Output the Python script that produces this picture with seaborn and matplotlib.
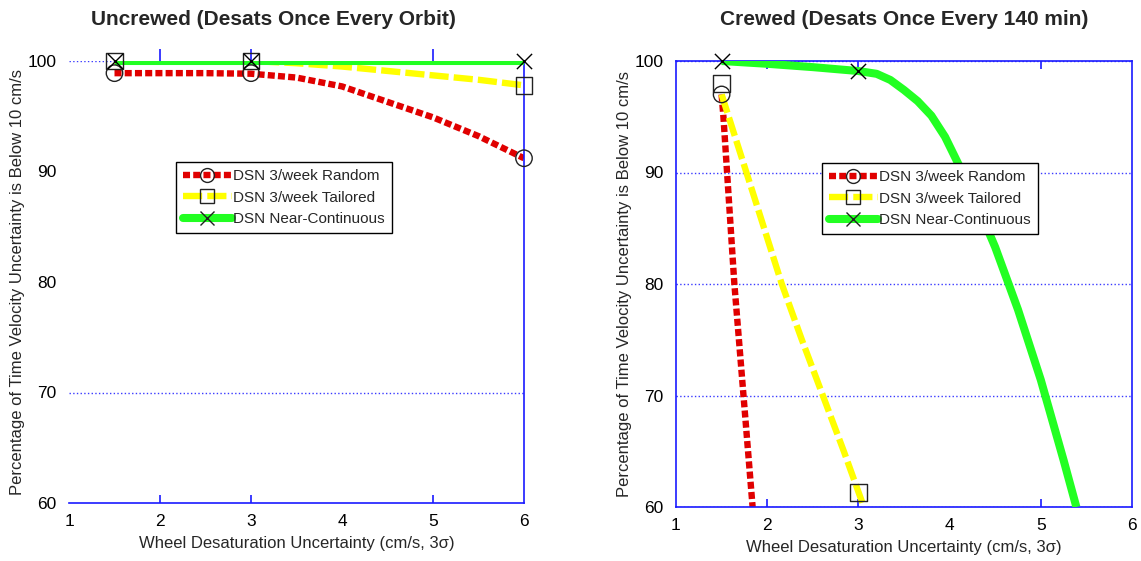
import matplotlib
matplotlib.use("Agg")
import matplotlib.pyplot as plt
from matplotlib.lines import Line2D
import seaborn as sns

sns.set_theme(style="white")
plt.rcParams["font.family"] = ["Liberation Sans", "DejaVu Sans"]

# --- data ---
labels = ["DSN 3/week Random", "DSN 3/week Tailored", "DSN Near-Continuous"]

# Uncrewed (left): fitted curves
unc_x = [1.5, 2, 2.5, 3, 3.5, 4, 4.5, 5, 5.5, 6]
unc_random = [98.9, 98.9, 98.9, 98.85, 98.5, 97.7, 96.3, 94.9, 93.2, 91.2]
unc_tailored = [100, 100, 100, 100, 99.8, 99.5, 99.1, 98.7, 98.3, 97.8]
unc_cont = [100, 100, 100, 100, 100, 100, 100, 100, 100, 100]
# Uncrewed: simulated points
unc_pts_x = [1.5, 3, 6]
unc_pts_random = [98.9, 98.9, 91.2]
unc_pts_tailored = [100, 100, 97.8]
unc_pts_cont = [100, 100, 100]

# Crewed (right): fitted curves
cre_random_x = [1.5, 1.52, 1.56, 1.60, 1.64, 1.69, 1.74, 1.79, 1.84]
cre_random_y = [97, 95, 90, 85, 80, 75, 70, 65, 60]
cre_tailored_x = [1.5, 1.85, 2.16, 2.38, 2.61, 2.84, 3.06]
cre_tailored_y = [97, 88, 80, 75, 70, 65, 60]
cre_cont_x = [1.5, 2, 2.5, 3, 3.2, 3.35, 3.5, 3.65, 3.8, 3.95, 4.1, 4.25, 4.5,
              4.75, 5, 5.25, 5.39]
cre_cont_y = [100, 99.75, 99.45, 99.1, 98.85, 98.3, 97.4, 96.4, 95.1, 93.2, 90.7,
              88.1, 83.3, 77.7, 71.4, 64.2, 60]
# Crewed: simulated points
cre_pts_random_x, cre_pts_random_y = [1.5], [97]
cre_pts_tailored_x, cre_pts_tailored_y = [1.5, 3], [98, 61.3]
cre_pts_cont_x, cre_pts_cont_y = [1.5, 3], [100, 99.1]

xticks = [1, 2, 3, 4, 5, 6]
yticks = [60, 70, 80, 90, 100]

# --- styles ---
BLUE = "#1a1aff"
GRID = "#3a3aff"
colors = ["#e00000", "#ffff00", "#22ff22"]
lstyles = [(0, (1.1, 0.5)), (0, (3.0, 0.8)), "-"]
lwidths = [4.6, 4.6, 5.8]
markers = ["o", "s", "x"]

fig = plt.figure(figsize=(11.41, 5.61), dpi=100)
ax1 = fig.add_axes([69 / 1141, 1 - 503 / 561, 455 / 1141, 442 / 561])
ax2 = fig.add_axes([676 / 1141, 1 - 507 / 561, 456 / 1141, 446 / 561])


def draw(ax, lines, points):
    for i, (lx, ly) in enumerate(lines):
        sns.lineplot(x=lx, y=ly, ax=ax, color=colors[i], lw=lwidths[i],
                     linestyle=lstyles[i], estimator=None, sort=False,
                     dash_capstyle="butt", solid_capstyle="butt",
                     solid_joinstyle="round", dash_joinstyle="round",
                     zorder=2 + i)
    for i, (px, py) in enumerate(points):
        if markers[i] == "x":
            sns.scatterplot(x=px, y=py, ax=ax, marker="x", s=120, color="black",
                            linewidth=1.0, zorder=10, clip_on=False)
        else:
            sns.scatterplot(x=px, y=py, ax=ax, marker=markers[i], s=140,
                            facecolor="none", edgecolor="#222222",
                            linewidth=1.0, zorder=10, clip_on=False)


draw(ax1,
     [(unc_x, unc_random), (unc_x, unc_tailored), (unc_x, unc_cont)],
     [(unc_pts_x, unc_pts_random), (unc_pts_x, unc_pts_tailored),
      (unc_pts_x, unc_pts_cont)])
draw(ax2,
     [(cre_random_x, cre_random_y), (cre_tailored_x, cre_tailored_y),
      (cre_cont_x, cre_cont_y)],
     [(cre_pts_random_x, cre_pts_random_y),
      (cre_pts_tailored_x, cre_pts_tailored_y),
      (cre_pts_cont_x, cre_pts_cont_y)])

handles = [Line2D([], [], color=colors[i], lw=lwidths[i], linestyle=lstyles[i],
                  dash_capstyle="butt", marker=markers[i], ms=10,
                  mfc="none", mec="#222222", mew=1.0)
           for i in range(3)]

titles = ["Uncrewed (Desats Once Every Orbit)", "Crewed (Desats Once Every 140 min)"]
title_x = [0.45, 0.5]
leg_pos = [(0.235, 0.771), (0.32, 0.771)]
for k, ax in enumerate([ax1, ax2]):
    ax.set_xlim(1, 6)
    ax.set_ylim(60, 100)
    ax.xaxis.remove_overlapping_locs = False
    ax.set_xticks(xticks)
    ax.set_yticks(yticks)
    ax.set_xticks([2, 3, 5], minor=True)
    ax.tick_params(axis="both", which="major", length=0, labelsize=12.5,
                   colors="black")
    ax.tick_params(axis="x", which="major", pad=8)
    ax.tick_params(axis="y", which="major", pad=9)
    ax.tick_params(axis="x", which="minor", direction="in", length=6,
                   width=1.2, color=BLUE, top=True, bottom=True)
    ax.set_xlabel("Wheel Desaturation Uncertainty (cm/s, 3σ)", fontsize=12)
    ax.set_ylabel("Percentage of Time Velocity Uncertainty is Below 10 cm/s",
                  fontsize=12)
    ax.yaxis.set_label_coords(-0.096, 0.5)
    ax.xaxis.set_label_coords(0.5, -0.075)
    ax.set_title(titles[k], fontsize=15, fontweight="bold", x=title_x[k], pad=26)
    for s in ax.spines.values():
        s.set_color(BLUE)
        s.set_linewidth(1.2)
    leg = ax.legend(handles, labels, loc="upper left", bbox_to_anchor=leg_pos[k],
                    borderaxespad=0, fontsize=11, frameon=True, fancybox=False,
                    edgecolor="black", framealpha=1, handlelength=3.2,
                    handletextpad=0.1, labelspacing=0.5, borderpad=0.45)
    leg.get_frame().set_linewidth(1.0)

# left panel: only the right and bottom axis lines, sparse grid,
# top tick marks sit just above the 100 % line
ax1.spines["left"].set_visible(False)
ax1.spines["top"].set_visible(False)
ax1.tick_params(axis="x", which="minor", top=False)
sec = ax1.secondary_xaxis("top")
sec.set_xticks([2, 3, 5])
sec.tick_params(direction="out", length=9, width=1.2, color=BLUE,
                labeltop=False)
sec.spines["top"].set_visible(False)
for lvl in [100, 70]:
    ax1.axhline(lvl, color=GRID, lw=1.0, linestyle=":", zorder=1)

# right panel: full dotted grid
for lvl in [100, 90, 80, 70, 60]:
    ax2.axhline(lvl, color=GRID, lw=1.0, linestyle=":", zorder=1)

fig.savefig("out.png", dpi=100)
